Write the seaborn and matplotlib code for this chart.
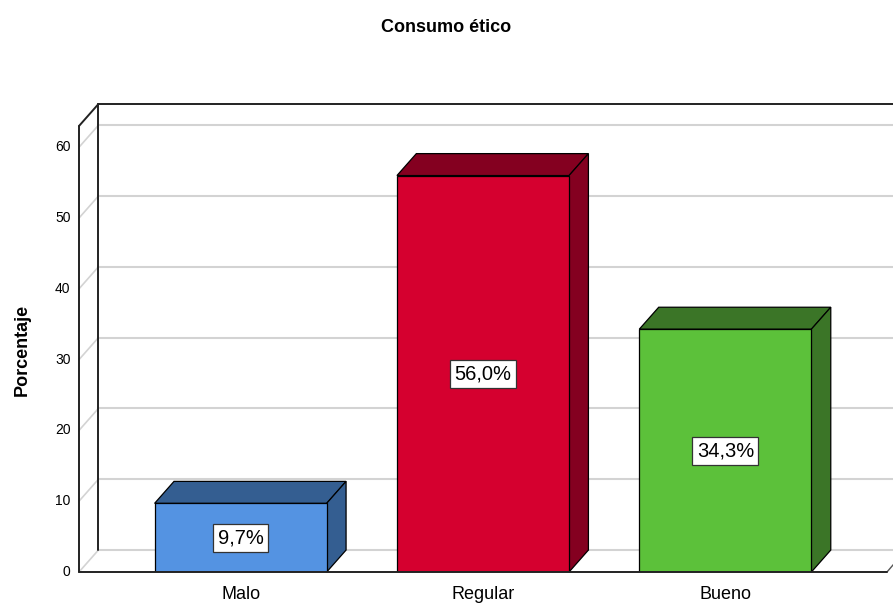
import numpy as np
import matplotlib
matplotlib.use("Agg")
import matplotlib.pyplot as plt
from matplotlib.patches import Polygon
import seaborn as sns

categories = ["Malo", "Regular", "Bueno"]
percent = [9.7, 56.0, 34.3]
labels = ["9,7%", "56,0%", "34,3%"]
y_ticks = [0, 10, 20, 30, 40, 50, 60]

front_colors = ["#5493E2", "#D5002F", "#5CC13A"]
dark_colors = ["#345E91", "#840020", "#3B7527"]

sns.set_style("white")
plt.rcParams["font.family"] = ["Liberation Sans", "DejaVu Sans"]
plt.rcParams["text.color"] = "black"
plt.rcParams["xtick.color"] = "black"

W, H = 893, 605
fig = plt.figure(figsize=(W / 100, H / 100), dpi=100)
ax = fig.add_axes([79 / W, 33 / H, (887 - 79) / W, (572 - 126) / H])

xmin, xmax = -0.667, 2.667
ymax = 63.0
dx, dy = 0.08, 3.1   # depth offset in data units

sns.barplot(x=categories, y=percent, hue=categories, palette=front_colors,
            saturation=1, width=0.71, edgecolor="black", linewidth=0.9,
            legend=False, ax=ax, zorder=5)
ax.set_xlim(xmin, xmax)
ax.set_ylim(0, ymax)
for s in ax.spines.values():
    s.set_visible(False)
ax.set_xlabel("")
ax.set_ylabel("")
ax.set_yticks([])
ax.tick_params(axis="x", length=0, pad=10, labelsize=13, labelcolor="black")

grid = "#D3D3D3"
big = 5.0  # back wall extends off the right edge
# back wall gridlines + left wall diagonals
for t in y_ticks:
    ax.plot([xmin + dx, xmax + big], [t + dy, t + dy], color=grid, lw=1.5,
            zorder=1, clip_on=False)
    ax.plot([xmin, xmin + dx], [t, t + dy], color=grid, lw=1.2, zorder=1,
            clip_on=False)
    ax.text(xmin - 0.035, t, str(t), ha="right", va="center", fontsize=10,
            color="black")
# floor right diagonal
ax.plot([xmax, xmax + 0.03], [0, 1.2], color="#555555", lw=1.0, zorder=2,
        clip_on=False)
# frame
k = "#222222"
ax.plot([xmin, xmax], [0, 0], color=k, lw=1.4, zorder=6, clip_on=False)
ax.plot([xmin, xmin], [0, ymax], color=k, lw=1.4, zorder=6, clip_on=False)
ax.plot([xmin, xmin + dx], [ymax, ymax + dy], color=k, lw=1.4, zorder=6,
        clip_on=False)
ax.plot([xmin + dx, xmin + dx], [dy, ymax + dy], color=k, lw=1.4, zorder=2,
        clip_on=False)
ax.plot([xmin + dx, xmax + big], [ymax + dy, ymax + dy], color=k, lw=1.4,
        zorder=2, clip_on=False)

# 3D faces of the bars
for p, dc, lab in zip(ax.patches, dark_colors, labels):
    x, w, h = p.get_x(), p.get_width(), p.get_height()
    top = Polygon([(x, h), (x + dx, h + dy), (x + w + dx, h + dy), (x + w, h)],
                  closed=True, facecolor=dc, edgecolor="black", lw=0.9,
                  zorder=4, clip_on=False)
    side = Polygon([(x + w, 0), (x + w + dx, dy), (x + w + dx, h + dy), (x + w, h)],
                   closed=True, facecolor=dc, edgecolor="black", lw=0.9,
                   zorder=4, clip_on=False)
    ax.add_patch(top)
    ax.add_patch(side)
    ax.text(x + w / 2, h / 2, lab, ha="center", va="center", fontsize=14.5,
            color="black", zorder=7,
            bbox=dict(boxstyle="square,pad=0.22", facecolor="white",
                      edgecolor="#333333", lw=0.9))

fig.text(0.5, 1 - 27 / H, "Consumo ético", ha="center", va="center",
         fontsize=13, fontweight="bold", color="black")
fig.text(22 / W, 1 - 350 / H, "Porcentaje", ha="center", va="center",
         rotation=90, fontsize=13, fontweight="bold", color="black")

fig.savefig("out.png", dpi=100)
